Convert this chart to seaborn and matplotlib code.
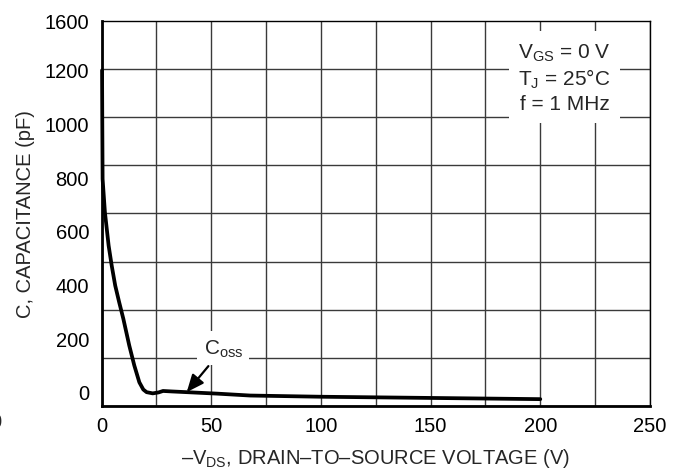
import matplotlib
matplotlib.use("Agg")
import matplotlib.pyplot as plt
import seaborn as sns

# Coss curve
vds = [0.2, 0.3, 0.45, 1.5, 3.2, 4.6, 6.2, 8.0, 9.9, 12.6, 14.9, 17.2, 19.0,
       20.5, 23.3, 26.0, 28.0, 32.0, 38.8, 52.5, 67.7, 100, 150, 200]
coss = [1395, 1190, 943, 805, 666, 583, 500, 431, 362, 251, 168, 98, 68,
        57, 52, 56, 62, 60, 57, 51, 43, 38, 33, 28]

xtick_vals = [0, 50, 100, 150, 200, 250]
ytick_vals = [0, 200, 400, 600, 800, 1000, 1200, 1600]
conditions = ["$\\mathregular{V_{GS}}$ = 0 V", "$\\mathregular{T_J}$ = 25°C", "f = 1 MHz"]

sns.set_theme(style="white")
plt.rcParams["font.family"] = ["Liberation Sans", "DejaVu Sans"]
plt.rcParams["mathtext.fontset"] = "custom"
plt.rcParams["mathtext.rm"] = "Liberation Sans"

fig = plt.figure(figsize=(6.82, 4.77), dpi=100)
ax = fig.add_axes([0.149, 0.147, 0.804, 0.807])

sns.lineplot(x=vds, y=coss, ax=ax, color="black", linewidth=2.7, zorder=4, clip_on=False)

ax.set_xlim(0, 250)
ax.set_ylim(0, 1600)

# grid every 25 V / 200 pF
ax.set_xticks(xtick_vals)
ax.set_xticks(range(0, 251, 25), minor=True)
ax.set_yticks(range(0, 1601, 200), minor=True)
# the printed y labels sit off the grid lines in the original
ypos = [58 + 1.116 * v for v in ytick_vals[:-1]] + [1600]
ax.set_yticks(ypos, [str(v) for v in ytick_vals])

ax.xaxis.grid(True, which="both", color="#3a3a3a", linewidth=1.0)
ax.yaxis.grid(True, which="minor", color="#3a3a3a", linewidth=1.0)
ax.yaxis.grid(False, which="major")
ax.set_axisbelow(True)

ax.tick_params(axis="both", which="both", length=0, labelsize=14.5, colors="black")
ax.tick_params(axis="x", pad=7)
ax.tick_params(axis="y", pad=9)

for side in ["left", "bottom"]:
    ax.spines[side].set_linewidth(2.0)
for side in ["top", "right"]:
    ax.spines[side].set_linewidth(1.0)
for sp in ax.spines.values():
    sp.set_color("black")

ax.set_xlabel("–$\\mathregular{V_{DS}}$, DRAIN–TO–SOURCE VOLTAGE (V)", fontsize=14.5, labelpad=8)
ax.set_ylabel("C, CAPACITANCE (pF)", fontsize=14.5, labelpad=7)

ax.text(211, 1366, "\n".join(conditions), ha="center", va="center", fontsize=15,
        linespacing=1.25, zorder=5,
        bbox=dict(boxstyle="square,pad=0.45", facecolor="white", edgecolor="none"))

ax.annotate("$\\mathregular{C_{oss}}$", xy=(38.8, 57), xytext=(55.5, 240),
            ha="center", va="center", fontsize=15, zorder=5,
            bbox=dict(boxstyle="square,pad=0.3", facecolor="white", edgecolor="none"),
            arrowprops=dict(arrowstyle="-|>,head_length=0.7,head_width=0.3",
                            color="black", lw=1.6, shrinkA=1, shrinkB=0))

# stray clipped "0" at the far left edge of the original
fig.text(-4 / 682, 1 - 423 / 477, "0", ha="center", va="center", fontsize=14.5)

fig.savefig("out.png", dpi=100)
